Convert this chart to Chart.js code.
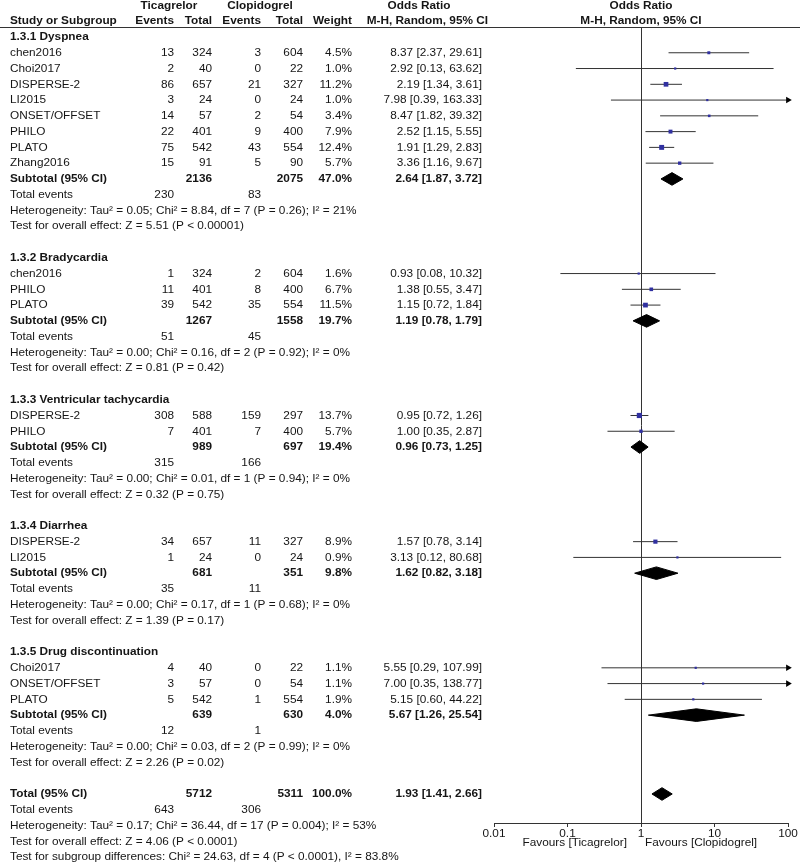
<!DOCTYPE html>
<html>
<head>
<meta charset="utf-8">
<script src="https://cdn.jsdelivr.net/npm/chart.js@4/dist/chart.umd.min.js"></script>
<style>
  html, body { margin: 0; padding: 0; background: #fff; }
  canvas { display: block; }
</style>
</head>
<body>
<canvas id="forest" width="800" height="863"></canvas>
<script>
// Subgroups
const groupTitles = ['1.3.1 Dyspnea', '1.3.2 Bradycardia', '1.3.3 Ventricular tachycardia', '1.3.4 Diarrhea', '1.3.5 Drug discontinuation'];

// Studies (one entry per row)
const studyNames = ['chen2016', 'Choi2017', 'DISPERSE-2', 'LI2015', 'ONSET/OFFSET', 'PHILO', 'PLATO', 'Zhang2016',
                    'chen2016', 'PHILO', 'PLATO',
                    'DISPERSE-2', 'PHILO',
                    'DISPERSE-2', 'LI2015',
                    'Choi2017', 'ONSET/OFFSET', 'PLATO'];
const studyGroup = [0, 0, 0, 0, 0, 0, 0, 0, 1, 1, 1, 2, 2, 3, 3, 4, 4, 4];
const ticEvents  = [13, 2, 86, 3, 14, 22, 75, 15, 1, 11, 39, 308, 7, 34, 1, 4, 3, 5];
const ticTotal   = [324, 40, 657, 24, 57, 401, 542, 91, 324, 401, 542, 588, 401, 657, 24, 40, 57, 542];
const clopEvents = [3, 0, 21, 0, 2, 9, 43, 5, 2, 8, 35, 159, 7, 11, 0, 0, 0, 1];
const clopTotal  = [604, 22, 327, 24, 54, 400, 554, 90, 604, 400, 554, 297, 400, 327, 24, 22, 54, 554];
const weights    = [4.5, 1.0, 11.2, 1.0, 3.4, 7.9, 12.4, 5.7, 1.6, 6.7, 11.5, 13.7, 5.7, 8.9, 0.9, 1.1, 1.1, 1.9];
const oddsRatio  = [8.37, 2.92, 2.19, 7.98, 8.47, 2.52, 1.91, 3.36, 0.93, 1.38, 1.15, 0.95, 1.00, 1.57, 3.13, 5.55, 7.00, 5.15];
const ciLow      = [2.37, 0.13, 1.34, 0.39, 1.82, 1.15, 1.29, 1.16, 0.08, 0.55, 0.72, 0.72, 0.35, 0.78, 0.12, 0.29, 0.35, 0.60];
const ciHigh     = [29.61, 63.62, 3.61, 163.33, 39.32, 5.55, 2.83, 9.67, 10.32, 3.47, 1.84, 1.26, 2.87, 3.14, 80.68, 107.99, 138.77, 44.22];

// Subtotals
const subTicTotal   = [2136, 1267, 989, 681, 639];
const subClopTotal  = [2075, 1558, 697, 351, 630];
const subWeight     = [47.0, 19.7, 19.4, 9.8, 4.0];
const subOR         = [2.64, 1.19, 0.96, 1.62, 5.67];
const subLow        = [1.87, 0.78, 0.73, 0.82, 1.26];
const subHigh       = [3.72, 1.79, 1.25, 3.18, 25.54];
const subTicEvents  = [230, 51, 315, 35, 12];
const subClopEvents = [83, 45, 166, 11, 1];
const subHet = [
  'Heterogeneity: Tau\u00b2 = 0.05; Chi\u00b2 = 8.84, df = 7 (P = 0.26); I\u00b2 = 21%',
  'Heterogeneity: Tau\u00b2 = 0.00; Chi\u00b2 = 0.16, df = 2 (P = 0.92); I\u00b2 = 0%',
  'Heterogeneity: Tau\u00b2 = 0.00; Chi\u00b2 = 0.01, df = 1 (P = 0.94); I\u00b2 = 0%',
  'Heterogeneity: Tau\u00b2 = 0.00; Chi\u00b2 = 0.17, df = 1 (P = 0.68); I\u00b2 = 0%',
  'Heterogeneity: Tau\u00b2 = 0.00; Chi\u00b2 = 0.03, df = 2 (P = 0.99); I\u00b2 = 0%'
];
const subTest = [
  'Test for overall effect: Z = 5.51 (P < 0.00001)',
  'Test for overall effect: Z = 0.81 (P = 0.42)',
  'Test for overall effect: Z = 0.32 (P = 0.75)',
  'Test for overall effect: Z = 1.39 (P = 0.17)',
  'Test for overall effect: Z = 2.26 (P = 0.02)'
];

// Overall
const totalLabel = 'Total (95% CI)';
const totalCounts = [5712, 5311];
const totalWeight = 100.0;
const totalOR = [1.93, 1.41, 2.66];
const totalEvents = [643, 306];
const totalNotes = [
  'Heterogeneity: Tau\u00b2 = 0.17; Chi\u00b2 = 36.44, df = 17 (P = 0.004); I\u00b2 = 53%',
  'Test for overall effect: Z = 4.06 (P < 0.0001)',
  'Test for subgroup differences: Chi\u00b2 = 24.63, df = 4 (P < 0.0001), I\u00b2 = 83.8%'
];

// Axis
const tickValues = [0.01, 0.1, 1, 10, 100];
const tickLabels = ['0.01', '0.1', '1', '10', '100'];
const favours = ['Favours [Ticagrelor]', 'Favours [Clopidogrel]'];
const nullEffect = 1;

// ---- row layout ----
let row = 0;
const titleRows = [], studyRows = [], subRows = [];
groupTitles.forEach((t, g) => {
  titleRows.push(row++);
  studyGroup.forEach((sg, i) => { if (sg === g) studyRows[i] = row++; });
  subRows.push(row++);
  row += 4; // total events, heterogeneity, overall effect, blank
});
const totalRow = row;

const FONT = '"Liberation Sans", Arial, sans-serif';
const FSIZE = 11.8;
const TEXT = '#151515';
const LINE = '#333333';
const SQUARE = '#3030a0';
const X_MIN = tickValues[0], X_MAX = tickValues[tickValues.length - 1];
const DIAMOND_H = 0.4;

const fmtCI = (o, l, h) => `${o.toFixed(2)} [${l.toFixed(2)}, ${h.toFixed(2)}]`;

// ---- datasets ----
const datasets = [];

datasets.push({
  label: 'studies',
  data: studyNames.map((n, i) => ({ x: oddsRatio[i], y: studyRows[i] })),
  pointStyle: 'rect',
  pointRadius: weights.map(w => Math.max(2.2, 1.4 * Math.sqrt(w)) / Math.SQRT2),
  backgroundColor: SQUARE,
  borderWidth: 0,
  showLine: false
});

const arrowPts = [];
studyNames.forEach((n, i) => { if (ciHigh[i] > X_MAX) arrowPts.push({ x: X_MAX, y: studyRows[i] }); });
datasets.push({
  label: 'arrows',
  data: arrowPts,
  pointStyle: 'triangle',
  rotation: 90,
  pointRadius: 3.8,
  backgroundColor: '#000',
  borderColor: '#000',
  borderWidth: 0,
  showLine: false,
  clip: false
});

function diamond(o, l, h, r) {
  return {
    data: [{ x: l, y: r }, { x: o, y: r - DIAMOND_H }, { x: h, y: r }, { x: o, y: r + DIAMOND_H }, { x: l, y: r }],
    showLine: true,
    fill: 'shape',
    backgroundColor: '#000',
    borderColor: '#000',
    borderWidth: 1,
    pointRadius: 0,
    tension: 0
  };
}
subOR.forEach((o, g) => datasets.push(diamond(o, subLow[g], subHigh[g], subRows[g])));
datasets.push(diamond(totalOR[0], totalOR[1], totalOR[2], totalRow));

studyNames.forEach((n, i) => {
  datasets.push({
    data: [{ x: ciLow[i], y: studyRows[i] }, { x: ciHigh[i], y: studyRows[i] }],
    showLine: true,
    borderColor: LINE,
    borderWidth: 1,
    pointRadius: 0
  });
});

// ---- table text ----
const COL = { name: 10, ticE: 174, ticT: 212, clopE: 261, clopT: 303, weight: 352, or: 482 };

function txt(ctx, s, x, y, align, bold) {
  ctx.font = (bold ? 'bold ' : '') + FSIZE + 'px ' + FONT;
  ctx.textAlign = align;
  ctx.fillText(s, x, y);
}

const tablePlugin = {
  id: 'table',
  beforeDatasetsDraw(chart) {
    const ctx = chart.ctx, x = chart.scales.x, a = chart.chartArea;
    const px = Math.round(x.getPixelForValue(nullEffect)) + 0.5;
    ctx.save();
    ctx.strokeStyle = LINE;
    ctx.lineWidth = 1;
    ctx.beginPath();
    ctx.moveTo(px, a.top);
    ctx.lineTo(px, a.bottom);
    ctx.stroke();
    ctx.restore();
  },
  afterDraw(chart) {
    const ctx = chart.ctx, x = chart.scales.x, y = chart.scales.y, a = chart.chartArea;
    const Y = r => y.getPixelForValue(r);
    ctx.save();
    ctx.fillStyle = TEXT;
    ctx.textBaseline = 'middle';

    // header
    const h1 = Y(-1.97), h2 = Y(-1.0);
    txt(ctx, 'Ticagrelor', 169, h1, 'center', true);
    txt(ctx, 'Clopidogrel', 260, h1, 'center', true);
    txt(ctx, 'Odds Ratio', 419, h1, 'center', true);
    txt(ctx, 'Odds Ratio', (a.left + a.right) / 2, h1, 'center', true);
    txt(ctx, 'Study or Subgroup', COL.name, h2, 'left', true);
    txt(ctx, 'Events', COL.ticE, h2, 'right', true);
    txt(ctx, 'Total', COL.ticT, h2, 'right', true);
    txt(ctx, 'Events', COL.clopE, h2, 'right', true);
    txt(ctx, 'Total', COL.clopT, h2, 'right', true);
    txt(ctx, 'Weight', COL.weight, h2, 'right', true);
    txt(ctx, 'M-H, Random, 95% CI', 488, h2, 'right', true);
    txt(ctx, 'M-H, Random, 95% CI', (a.left + a.right) / 2, h2, 'center', true);

    ctx.strokeStyle = LINE;
    ctx.lineWidth = 1;
    ctx.beginPath();
    ctx.moveTo(0, a.top - 0.5);
    ctx.lineTo(chart.width, a.top - 0.5);
    ctx.stroke();

    groupTitles.forEach((t, g) => {
      txt(ctx, t, COL.name, Y(titleRows[g]), 'left', true);
      const sr = Y(subRows[g]);
      txt(ctx, 'Subtotal (95% CI)', COL.name, sr, 'left', true);
      txt(ctx, String(subTicTotal[g]), COL.ticT, sr, 'right', true);
      txt(ctx, String(subClopTotal[g]), COL.clopT, sr, 'right', true);
      txt(ctx, subWeight[g].toFixed(1) + '%', COL.weight, sr, 'right', true);
      txt(ctx, fmtCI(subOR[g], subLow[g], subHigh[g]), COL.or, sr, 'right', true);
      const te = Y(subRows[g] + 1);
      txt(ctx, 'Total events', COL.name, te, 'left', false);
      txt(ctx, String(subTicEvents[g]), COL.ticE, te, 'right', false);
      txt(ctx, String(subClopEvents[g]), COL.clopE, te, 'right', false);
      txt(ctx, subHet[g], COL.name, Y(subRows[g] + 2), 'left', false);
      txt(ctx, subTest[g], COL.name, Y(subRows[g] + 3), 'left', false);
    });

    studyNames.forEach((n, i) => {
      const r = Y(studyRows[i]);
      txt(ctx, n, COL.name, r, 'left', false);
      txt(ctx, String(ticEvents[i]), COL.ticE, r, 'right', false);
      txt(ctx, String(ticTotal[i]), COL.ticT, r, 'right', false);
      txt(ctx, String(clopEvents[i]), COL.clopE, r, 'right', false);
      txt(ctx, String(clopTotal[i]), COL.clopT, r, 'right', false);
      txt(ctx, weights[i].toFixed(1) + '%', COL.weight, r, 'right', false);
      txt(ctx, fmtCI(oddsRatio[i], ciLow[i], ciHigh[i]), COL.or, r, 'right', false);
    });

    const tr = Y(totalRow);
    txt(ctx, totalLabel, COL.name, tr, 'left', true);
    txt(ctx, String(totalCounts[0]), COL.ticT, tr, 'right', true);
    txt(ctx, String(totalCounts[1]), COL.clopT, tr, 'right', true);
    txt(ctx, totalWeight.toFixed(1) + '%', COL.weight, tr, 'right', true);
    txt(ctx, fmtCI(totalOR[0], totalOR[1], totalOR[2]), COL.or, tr, 'right', true);
    const te = Y(totalRow + 1);
    txt(ctx, 'Total events', COL.name, te, 'left', false);
    txt(ctx, String(totalEvents[0]), COL.ticE, te, 'right', false);
    txt(ctx, String(totalEvents[1]), COL.clopE, te, 'right', false);
    totalNotes.forEach((s, k) => txt(ctx, s, COL.name, Y(totalRow + 2 + k), 'left', false));

    // favours labels under the axis
    const px = x.getPixelForValue(nullEffect);
    const fy = a.bottom + 20;
    txt(ctx, favours[0], px - 14, fy, 'right', false);
    txt(ctx, favours[1], px + 4, fy, 'left', false);
    ctx.restore();
  }
};

const ctx = document.getElementById('forest').getContext('2d');
new Chart(ctx, {
  type: 'scatter',
  data: { datasets },
  options: {
    responsive: false,
    animation: false,
    layout: { padding: { left: 494, right: 12, top: 28, bottom: 0 } },
    scales: {
      x: {
        type: 'logarithmic',
        min: X_MIN,
        max: X_MAX,
        afterFit: s => { s.height = 40; },
        afterBuildTicks: s => { s.ticks = tickValues.map(v => ({ value: v })); },
        ticks: {
          callback: (v, i) => tickLabels[i],
          font: { family: FONT, size: FSIZE },
          color: TEXT,
          padding: 0,
          maxRotation: 0,
          autoSkip: false
        },
        grid: { drawOnChartArea: false, tickLength: 4, color: LINE },
        border: { color: LINE }
      },
      y: { display: false, reverse: true, min: -0.57, max: 49.84 }
    },
    plugins: { legend: { display: false }, tooltip: { enabled: false } }
  },
  plugins: [tablePlugin]
});
</script>
</body>
</html>
